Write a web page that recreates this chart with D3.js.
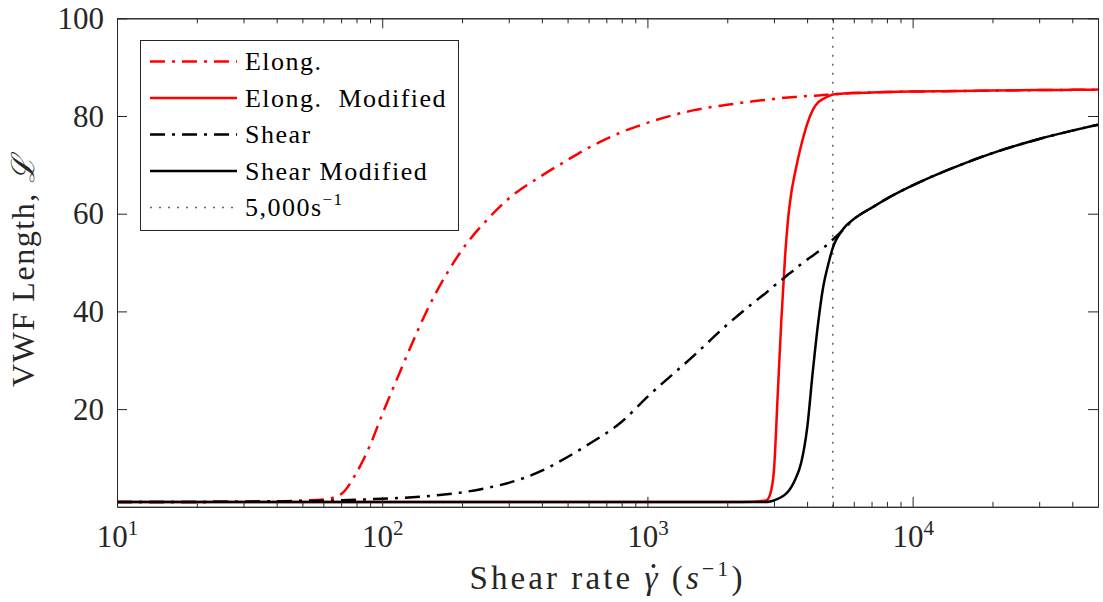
<!DOCTYPE html>
<html>
<head>
<meta charset="utf-8">
<script src="https://cdn.jsdelivr.net/npm/d3@7"></script>
<style>
body { margin: 0; background: #fff; }
svg { display: block; }
svg text { font-family: 'Liberation Serif', 'Times New Roman', serif; }
</style>
</head>
<body>
<svg width="1103" height="602"></svg>
<script>
// shear rates (1/s) the four curves are sampled at
const shearRate = [10, 20, 30, 40, 50, 60, 70, 80, 90, 100, 115, 130, 150, 175, 200, 250, 300, 400, 500, 600,
    800, 1000, 1500, 2000, 2500, 2800, 2900, 3000, 3100, 3200, 3300, 3400, 3500, 3600, 3800, 4000, 4200, 4400, 4600,
    4800, 5000, 5500, 6000, 7000, 8000, 10000, 15000, 20000, 30000, 40000, 50000];

const elong = [1.0, 1.0, 1.05, 1.1, 1.3, 1.5, 2.6, 7.0, 12.6, 18.9, 26.8, 33.6, 41.0, 47.7, 52.6, 58.9, 63.1, 67.8, 71.0, 73.5,
    76.7, 78.6, 81.2, 82.3, 83.0, 83.3, 83.4, 83.5, 83.6, 83.7, 83.75, 83.8, 83.85, 83.9, 84.0, 84.1, 84.15, 84.2, 84.3,
    84.35, 84.4, 84.6, 84.7, 84.8, 84.9, 85.0, 85.1, 85.2, 85.3, 85.35, 85.4];

const elongModified = [1.0, 1.0, 1.0, 1.0, 1.0, 1.0, 1.0, 1.0, 1.0, 1.0, 1.0, 1.0, 1.0, 1.0, 1.0, 1.0, 1.0, 1.0, 1.0, 1.0,
    1.0, 1.0, 1.0, 1.0, 1.05, 1.3, 2.5, 7.5, 23.0, 38.4, 50.8, 59.5, 64.8, 68.3, 74.0, 78.3, 81.2, 82.8, 83.5,
    84.0, 84.4, 84.6, 84.7, 84.8, 84.9, 85.0, 85.1, 85.2, 85.3, 85.35, 85.4];

const shear = [1.0, 1.0, 1.05, 1.1, 1.15, 1.25, 1.35, 1.45, 1.55, 1.65, 1.8, 1.95, 2.2, 2.55, 2.95, 3.9, 4.9, 7.4, 10.2, 12.8,
    17.4, 22.5, 31.0, 37.3, 41.7, 43.8, 44.5, 45.2, 45.8, 46.4, 47.0, 47.6, 48.1, 48.6, 49.7, 50.6, 51.4, 52.2, 53.0,
    53.8, 54.7, 56.8, 58.9, 61.2, 63.1, 65.8, 69.9, 72.4, 75.3, 77.0, 78.2];

const shearModified = [1.0, 1.0, 1.0, 1.0, 1.0, 1.0, 1.0, 1.0, 1.0, 1.0, 1.0, 1.0, 1.0, 1.0, 1.0, 1.0, 1.0, 1.0, 1.0, 1.0,
    1.0, 1.0, 1.0, 1.0, 1.0, 1.0, 1.1, 1.3, 1.6, 2.0, 2.5, 3.2, 4.2, 5.5, 9.0, 16.0, 27.5, 37.5, 45.0,
    49.5, 53.0, 57.0, 58.9, 61.2, 63.1, 65.8, 69.9, 72.4, 75.3, 77.0, 78.2];

const markerRate = 5000;
const xDomain = [10, 50000];
const yDomain = [0, 100];
const xMajorTicks = [10, 100, 1000, 10000];
const xTickExponents = ['1', '2', '3', '4'];
const yTicks = [20, 40, 60, 80, 100];

const series = [
    { label: 'Elong.', values: elong, color: '#ff0000', dash: '15,7,3,7' },
    { label: 'Elong.\u00A0 Modified', values: elongModified, color: '#ff0000', dash: null },
    { label: 'Shear', values: shear, color: '#000000', dash: '15,7,3,7' },
    { label: 'Shear Modified', values: shearModified, color: '#000000', dash: null },
];

const axisColor = '#262626';
const svg = d3.select('svg');

const x = d3.scaleLog().domain(xDomain).range([117, 1098]);
const y = d3.scaleLinear().domain(yDomain).range([506.8, 18.3]);

const xMinorTicks = [];
xMajorTicks.forEach((d) => {
    for (let k = 2; k <= 9; k++) {
        if (k * d <= xDomain[1]) xMinorTicks.push(k * d);
    }
});

// the reference uses Computer Modern, which runs wider than Times:
// spread the letters until a text is as wide as in the picture
const fitWidth = (text, width) => {
    const node = text.node();
    const natural = node.getComputedTextLength();
    const chars = node.textContent.length;
    text.style('letter-spacing', `${(width - natural) / chars}px`);
};

// dotted marker first so the curves sit on top of it
svg.append('line')
    .attr('x1', x(markerRate))
    .attr('x2', x(markerRate))
    .attr('y1', y(yDomain[0]))
    .attr('y2', y(yDomain[1]))
    .style('stroke', '#666')
    .style('stroke-width', 1.5)
    .style('stroke-dasharray', '2,7');

const line = d3.line()
    .x((d, i) => x(shearRate[i]))
    .y(d => y(d))
    .curve(d3.curveMonotoneX);

svg.append('g')
    .attr('class', 'curves')
    .selectAll('path')
    .data(series)
    .enter()
    .append('path')
    .attr('d', s => line(s.values))
    .style('fill', 'none')
    .style('stroke', s => s.color)
    .style('stroke-width', 2.5)
    .style('stroke-dasharray', s => s.dash);

// box axes, ticks pointing inwards
const styleAxis = (g) => {
    g.attr('font-family', null).attr('font-size', null);
    g.selectAll('path, line').style('stroke', axisColor).style('stroke-width', 1);
    g.selectAll('text').remove();
};

const bottom = svg.append('g')
    .attr('transform', `translate(0,${y(yDomain[0])})`)
    .call(d3.axisBottom(x).tickValues(xMajorTicks).tickSize(-10).tickSizeOuter(0))
    .call(styleAxis);
svg.append('g')
    .attr('transform', `translate(0,${y(yDomain[0])})`)
    .call(d3.axisBottom(x).tickValues(xMinorTicks).tickSize(-5).tickSizeOuter(0))
    .call(styleAxis);
svg.append('g')
    .attr('transform', `translate(0,${y(yDomain[1])})`)
    .call(d3.axisTop(x).tickValues(xMajorTicks).tickSize(-10).tickSizeOuter(0))
    .call(styleAxis);
svg.append('g')
    .attr('transform', `translate(0,${y(yDomain[1])})`)
    .call(d3.axisTop(x).tickValues(xMinorTicks).tickSize(-5).tickSizeOuter(0))
    .call(styleAxis);
const left = svg.append('g')
    .attr('transform', `translate(${x(xDomain[0])},0)`)
    .call(d3.axisLeft(y).tickValues(yTicks).tickSize(-10).tickSizeOuter(0))
    .call(styleAxis);
svg.append('g')
    .attr('transform', `translate(${x(xDomain[1])},0)`)
    .call(d3.axisRight(y).tickValues(yTicks).tickSize(-10).tickSizeOuter(0))
    .call(styleAxis);

left.selectAll('.tick')
    .append('text')
    .attr('x', -13)
    .attr('dy', 10)
    .attr('text-anchor', 'end')
    .style('fill', axisColor)
    .style('font-size', '31px')
    .text(d => d);

const xLabels = bottom.selectAll('.tick')
    .append('text')
    .attr('y', 40)
    .attr('text-anchor', 'middle')
    .style('fill', axisColor)
    .style('font-size', '31px');
xLabels.append('tspan').text('10');
xLabels.append('tspan')
    .attr('dy', -12)
    .style('font-size', '21px')
    .text((d, i) => xTickExponents[i]);

// axis titles
const xTitle = svg.append('text')
    .attr('x', (x.range()[0] + x.range()[1]) / 2)
    .attr('y', 589)
    .attr('text-anchor', 'middle')
    .style('fill', axisColor)
    .style('font-size', '33px');
xTitle.append('tspan').text('Shear rate\u00A0');
xTitle.append('tspan').style('font-style', 'italic').text('\u03B3');
xTitle.append('tspan').text('\u00A0(');
xTitle.append('tspan').style('font-style', 'italic').text('s');
xTitle.append('tspan').attr('dy', -13).style('font-size', '22px').text('\u22121');
xTitle.append('tspan').attr('dy', 13).text(')');
fitWidth(xTitle, 276);

// dot over the gamma
const gammaBox = xTitle.node().getExtentOfChar(11);
svg.append('circle')
    .attr('cx', gammaBox.x + gammaBox.width / 2 + 1)
    .attr('cy', gammaBox.y + 6)
    .attr('r', 2)
    .style('fill', axisColor);

const yTitle = svg.append('text')
    .attr('transform', `translate(34,${(y.range()[0] + y.range()[1]) / 2 + 8}) rotate(-90)`)
    .attr('text-anchor', 'middle')
    .style('fill', axisColor)
    .style('font-size', '32px');
yTitle.append('tspan').text('VWF Length,\u00A0');
yTitle.append('tspan').style('font-style', 'italic').text('\u2112');
fitWidth(yTitle, 233);

// legend
const legend = svg.append('g').attr('class', 'legend');
legend.append('rect')
    .attr('x', 140.5)
    .attr('y', 40.5)
    .attr('width', 318)
    .attr('height', 190)
    .style('fill', '#fff')
    .style('stroke', axisColor)
    .style('stroke-width', 1);

const legendItems = series.concat([{ label: '5,000s', color: '#666', dash: '2,7', thin: true }]);
const row = legend.selectAll('.item')
    .data(legendItems)
    .enter()
    .append('g')
    .attr('class', 'item')
    .attr('transform', (d, i) => `translate(0,${61.5 + i * 36.5})`);

row.append('line')
    .attr('x1', 150)
    .attr('x2', 237)
    .style('stroke', d => d.color)
    .style('stroke-width', d => (d.thin ? 1.5 : 2.5))
    .style('stroke-dasharray', d => d.dash);

const legendText = row.append('text')
    .attr('x', 245)
    .attr('y', 8.5)
    .style('fill', '#000')
    .style('font-size', '26px');
legendText.append('tspan').text(d => d.label);
legendText.filter(d => d.thin)
    .append('tspan')
    .attr('dy', -11)
    .style('font-size', '17px')
    .text('\u22121');
// one spacing for all rows, taken from the widest label
fitWidth(legendText.filter((d, i) => i === 1), 202);
legendText.style('letter-spacing', legendText.filter((d, i) => i === 1).style('letter-spacing'));
</script>
</body>
</html>
